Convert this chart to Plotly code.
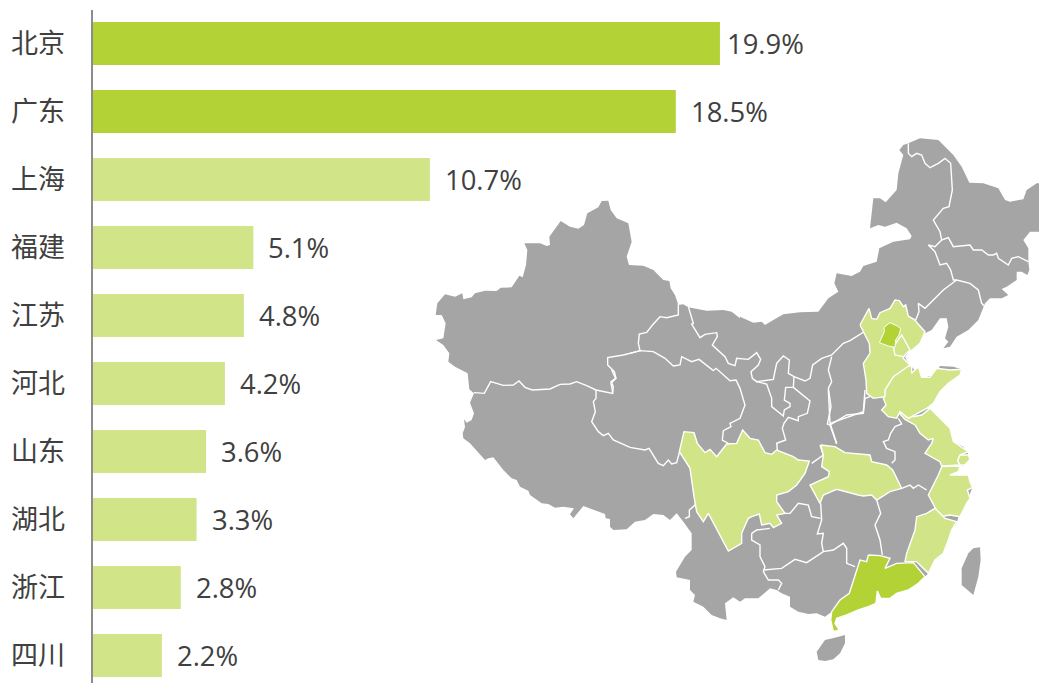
import plotly.graph_objects as go

# ---- bar data ----
provinces = ["北京", "广东", "上海", "福建", "江苏", "河北", "山东", "湖北", "浙江", "四川"]
shares = [19.9, 18.5, 10.7, 5.1, 4.8, 4.2, 3.6, 3.3, 2.8, 2.2]
share_labels = ["19.9%", "18.5%", "10.7%", "5.1%", "4.8%", "4.2%", "3.6%", "3.3%", "2.8%", "2.2%"]
DARK, LIGHT, GRAY = "#B2D235", "#D1E487", "#A5A5A5"
bar_colors = [DARK, DARK] + [LIGHT] * 8
label_gap = [5] + [13] * 9

def p(ox, oy, pts):
    return [(ox + a / 3, oy + b / 3) for a, b in pts]
def z1(pts): return p(430, 190, pts)
def z2(pts): return p(740, 130, pts)
def z3(pts): return p(670, 390, pts)
def z5(pts): return p(450, 370, pts)
def z6(pts): return p(630, 300, pts)
def z7(pts): return p(850, 290, pts)
def z8(pts): return p(860, 400, pts)

china_outline = (
    z1([(17,375),(22,340),(45,313),(75,320),(97,310),(100,328),(125,322),(135,310),(165,302),(200,303),(212,293),(245,292),(268,257),(278,262),(288,225),(292,180),(283,160),(330,160),(350,168),(360,165),(358,140),(392,93),(420,110),(445,116),(462,105),(472,70),(505,52),(515,33),(535,32),(542,60),(560,85),(595,100),(605,155),(590,200),(597,225),(640,227),(670,240),(700,270),(718,273),(722,295),(735,315),(745,345),(760,343),(775,352),(830,362),(880,360),(905,365),(930,385)])
    + z2([(0,560),(40,578),(65,575),(75,585),(100,570),(130,553),(180,547),(235,545),(265,505),(295,485),(283,460),(290,430),(335,438),(360,425),(370,408),(410,395),(418,355),(460,335),(510,328),(515,318),(500,295),(470,278),(435,290),(415,285),(390,295),(400,205),(420,205),(437,217),(470,180),(475,130),(490,75),(478,60),(490,45),(505,40),(540,25),(595,30),(640,75),(665,110),(688,158),(730,160),(775,175),(795,210),(810,215),(850,208),(860,180),(890,160),(900,160),(900,305),(870,305),(850,330),(865,355),(865,395),(868,420),(862,435),(845,425),(830,425),(830,450),(800,470),(785,477),(805,495),(785,505),(750,505),(735,520),(715,570),(685,600),(650,620),(630,650),(610,655),(625,635),(615,625),(625,590),(620,565),(600,565),(575,600),(555,610),(545,625),(515,655),(495,680),(505,700),(515,710),(545,745),(585,735),(600,708),(640,710),(665,718),(655,735),(625,750),(600,780),(590,800)])
    + z3([(785,40),(770,55),(810,85),(835,120),(850,155),(880,170),(893,190),(898,208),(885,225),(870,228),(865,245),(840,255),(870,255),(895,260),(908,290),(895,325),(885,345),(870,365),(865,385),(860,400),(845,420),(835,450),(820,490),(795,510),(775,550),(765,560),(745,580),(715,600),(680,610),(660,625),(632,625),(622,603),(618,640),(595,650),(565,660),(530,675),(500,685),(495,700),(508,720),(490,725),(482,690),(485,665),(465,680),(440,670),(415,672),(385,665),(360,650),(360,620),(335,610),(320,600),(300,595),(265,625),(225,625),(210,635),(190,622),(165,640),(170,690),(150,685),(125,675),(100,650),(70,635),(75,615),(60,600),(60,570),(20,562),(18,545),(45,500),(65,480),(65,430),(40,395),(20,370)])
    + z5([(660,450),(640,435),(610,432),(585,450),(555,455),(530,478),(490,480),(480,470),(480,447),(467,445),(465,432),(430,420),(400,408),(370,445),(360,433),(372,415),(340,410),(315,413),(295,402),(275,400),(240,375),(235,362),(210,350),(200,330),(185,325),(160,300),(135,270),(130,262),(115,265),(105,270),(60,220),(40,205),(38,190),(45,172),(42,148),(50,158),(65,150),(72,130),(60,98),(72,70)])
    + z1([(118,598),(113,550),(75,530),(55,515),(58,490),(40,465),(18,450),(40,445),(47,400),(35,375)])
)
hainan = z3([(440,785),(465,750),(500,742),(525,735),(525,760),(510,790),(490,808),(465,813),(445,810)])
taiwan = z3([(910,475),(930,472),(932,510),(925,560),(910,615),(875,585),(875,535),(895,490)])

internal_borders = [
    z5([(72,68),(103,70),(122,35),(160,46),(190,45),(207,33),(225,52),(247,60),(300,57),(330,43),(360,42),(380,35),(410,47),(438,60),(488,70),(490,50),(483,35),(497,25),(485,0)]),
    z1([(548,607),(543,580),(558,565),(553,545),(533,525),(533,503),(580,495),(632,482)]),
    z5([(438,60),(438,85),(430,95),(436,125),(425,155),(445,185),(460,197),(475,190),(490,210),(540,232),(585,240),(597,235),(625,280),(640,287),(655,270),(665,282),(680,278),(690,240)]),
    z5([(740,385),(735,405),(718,420),(718,440),(705,445)]),
    z6([(0,160),(30,152),(70,155),(105,175),(130,198),(150,195),(155,170),(185,185),(207,178),(250,212),(258,205),(300,242),(318,240),(330,265),(345,315),(330,355),(300,370),(303,380),(280,392),(277,420),(295,430),(270,460)]),
    z6([(145,12),(145,45),(110,53),(90,50),(70,72),(50,97),(28,102),(25,130),(30,152)]),
    z6([(175,20),(190,70),(185,72),(210,113),(225,103),(260,98),(262,110),(247,135),(285,170),(295,190),(315,197),(320,175),(355,178),(380,158),(392,178),(385,195),(363,215),(367,235),(380,245),(430,238),(440,190),(460,168),(478,180),(475,220),(492,230),(525,243),(540,235),(548,195),(575,175),(605,165),(640,130),(660,122),(700,97),(715,75)]),
    z6([(492,230),(490,262),(540,303),(532,340),(505,350),(505,362),(475,352),(462,370),(457,385),(467,420),(440,430),(443,460)]),
    z6([(380,245),(410,252),(425,295),(425,320),(460,348),(463,330),(480,320),(480,310),(463,300),(467,262),(490,262)]),
    z6([(605,170),(595,210),(605,245),(595,265),(603,320),(592,372),(600,375),(650,345),(700,340),(705,295),(720,290)]),
    z6([(600,375),(620,432)]),
    z6([(545,490),(580,465),(570,435)]),
    z8([(115,55),(125,72),(105,80),(92,100),(85,120),(70,125),(80,145),(105,155),(105,180),(95,190)]),
    z3([(475,0),(480,100),(500,160)]),
    z3([(480,100),(580,65),(585,0)]),
    z2([(505,40),(505,70),(515,80),(530,70),(545,75),(555,100),(570,113),(595,100),(615,85),(632,100),(637,180),(627,230),(610,235),(580,270),(600,305),(605,330),(625,323),(640,350),(690,345),(700,360),(725,360),(745,375),(760,375),(770,370),(775,385),(805,405),(815,385),(835,380),(865,395)]),
    z2([(605,330),(585,350),(565,345),(585,365),(600,405),(620,400),(632,420),(640,450),(650,450),(690,460),(715,480),(725,520),(735,530)]),
    z2([(650,450),(610,480),(555,535),(535,520),(537,545),(525,575)]),
    z3([(245,430),(260,420),(300,415)]),
    z3([(245,430),(245,450),(270,465),(270,500),(285,530),(280,545),(295,570),(325,570),(335,580),(325,600)]),
    z3([(280,540),(335,535),(375,508),(410,518),(460,485),(490,480),(520,460),(530,475),(530,520),(555,530)]),
    z3([(460,485),(455,460),(460,430),(442,432),(455,390),(452,340)]),
    z3([(452,385),(425,380),(415,345),(385,340),(360,370),(345,370)]),
    z3([(620,330),(632,370),(615,405),(630,450),(637,495)]),
    z3([(695,295),(720,285),(730,295),(745,285),(770,300)]),
]

sichuan = z3([(28,185),(42,125),(72,128),(82,160),(105,188),(120,178),(140,200),(160,175),(170,162),(200,160),(218,120),(240,145),(265,150),(285,188),(305,193),(320,180),(345,190),(370,200),(385,210),(418,213),(405,250),(380,285),(355,305),(320,315),(320,335),(345,370),(320,375),(335,400),(310,413),(300,400),(275,405),(268,372),(245,380),(235,385),(215,430),(215,460),(175,483),(160,455),(135,405),(115,370),(100,395),(80,365),(72,320),(60,235)])
hubei = z3([(452,165),(495,170),(525,188),(600,195),(605,215),(650,225),(668,240),(695,295),(660,305),(620,330),(605,315),(580,318),(565,315),(500,298),(460,315),(450,340),(420,285),(475,260),(478,245),(455,230),(460,195)])
jiangsu = z8([(118,40),(135,58),(165,75),(180,100),(205,120),(220,115),(215,130),(195,160),(240,185),(245,198),(300,195),(293,182),(300,165),(325,155),(280,125),(270,85),(240,55),(210,25),(185,45),(160,50),(130,35)])
shanghai = z8([(300,165),(325,165),(330,178),(315,195),(300,195),(293,182)])
zhejiang = z8([(245,200),(300,198),(295,215),(270,225),(325,225),(330,245),(338,262),(322,270),(330,295),(320,310),(300,350),(270,345),(240,350),(225,320),(205,285),(235,225)])
fujian = z3([(795,355),(825,385),(860,395),(845,420),(835,450),(820,490),(795,510),(775,550),(740,515),(705,515),(710,490),(735,420),(740,380),(770,370)])
guangdong = z3([(595,495),(630,497),(660,505),(645,535),(680,520),(730,518),(765,560),(745,580),(715,600),(680,610),(660,625),(632,625),(622,603),(618,640),(595,650),(565,660),(530,675),(500,685),(495,700),(508,720),(490,725),(482,690),(485,665),(510,630),(538,610),(560,540),(570,510),(590,515)])
shandong = z7([(105,300),(130,260),(170,228),(185,228),(185,250),(205,230),(215,262),(240,262),(260,235),(300,240),(335,238),(330,255),(295,280),(270,305),(250,340)]) + z3([(770,55),(715,85),(690,65),(680,85),(655,80),(635,60),(648,45),(640,25)])
hebei = z2([(360,585),(387,535),(395,565),(410,568),(420,548),(450,535),(465,510),(478,512),(490,530),(497,525),(505,558),(522,568),(555,605),(540,640)]) + z7([(180,185),(165,190),(160,205),(180,225),(130,260),(105,300),(105,320),(70,325),(50,310),(48,270),(40,220),(60,190),(58,160),(48,140),(40,125)])
tianjin = z7([(130,170),(155,135),(180,180),(160,200),(135,195)])
beijing = z7([(88,158),(103,125),(102,112),(120,98),(142,108),(152,116),(147,135),(137,150),(135,172),(115,168)])

light_regions = [sichuan, hubei, jiangsu, shanghai, zhejiang, fujian, shandong, hebei, tianjin]

fig = go.Figure()
fig.add_trace(go.Bar(
    x=shares, y=provinces, orientation="h", marker=dict(color=bar_colors, line_width=0),
    hoverinfo="skip", showlegend=False))

def region(points, fill, line_w=1.4):
    if points[0] != points[-1]:
        points = points + [points[0]]
    fig.add_trace(go.Scatter(
        x=[a for a, _ in points], y=[b for _, b in points], xaxis="x2", yaxis="y2",
        mode="lines", fill="toself", fillcolor=fill,
        line=dict(color="white", width=line_w), hoverinfo="skip", showlegend=False))

region(china_outline, GRAY, 0)
region(hainan, GRAY, 0)
region(taiwan, GRAY, 0)
for border in internal_borders:
    fig.add_trace(go.Scatter(
        x=[a for a, _ in border], y=[b for _, b in border], xaxis="x2", yaxis="y2",
        mode="lines", line=dict(color="white", width=1.4), hoverinfo="skip", showlegend=False))
for r in light_regions:
    region(r, LIGHT)
region(guangdong, DARK)
region(beijing, DARK, 1)

annotations = [
    dict(x=v, y=c, text=t, xref="x", yref="y", xanchor="left", yanchor="middle",
         xshift=g, showarrow=False, font=dict(size=27.4, color="#404040", family="Open Sans"))
    for v, c, t, g in zip(shares, provinces, share_labels, label_gap)
]

fig.update_layout(
    width=1039, height=683, margin=dict(l=0, r=0, t=0, b=0),
    paper_bgcolor="white", plot_bgcolor="rgba(0,0,0,0)", bargap=0.368,
    annotations=annotations,
    xaxis=dict(domain=[92.5 / 1039, 1], range=[0, 30.02], visible=False),
    yaxis=dict(
        type="category", categoryorder="array", categoryarray=provinces,
        domain=[0, 673 / 683], range=[9.404, -0.493],
        showline=True, linecolor="#8C8C8C", linewidth=2, showgrid=False, zeroline=False,
        ticks="", ticklabelstandoff=20,
        tickfont=dict(size=27, color="#404040", family="Noto Sans CJK SC")),
    xaxis2=dict(domain=[0, 1], range=[0, 1039], visible=False, anchor="y2", fixedrange=True),
    yaxis2=dict(domain=[0, 1], range=[683, 0], visible=False, anchor="x2", fixedrange=True),
)

fig.write_html("out.html", config={"displayModeBar": False},
               post_script="document.body.style.margin='0';")
